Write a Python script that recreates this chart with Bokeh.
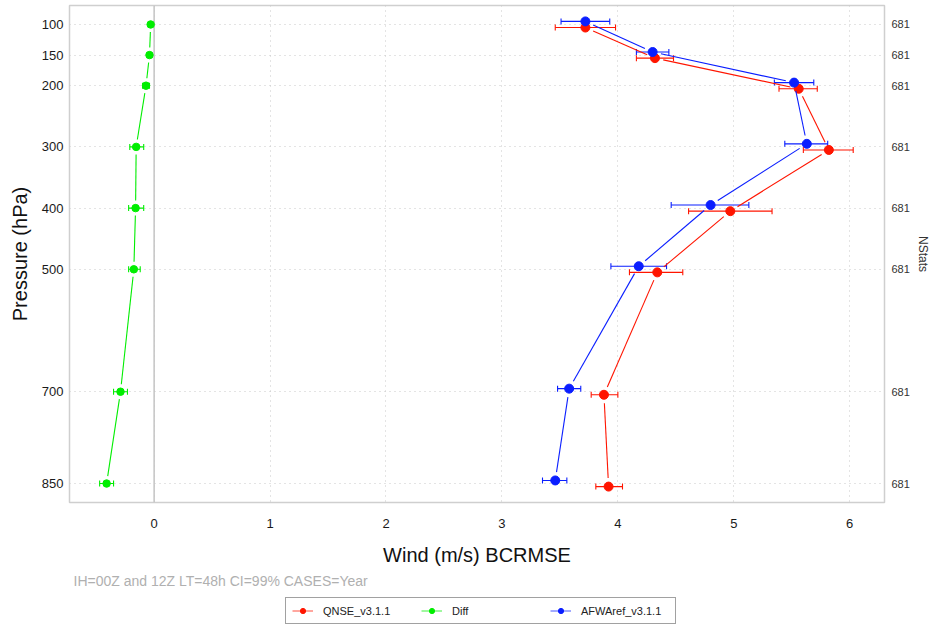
import math
from bokeh.plotting import figure
from bokeh.layouts import column
from bokeh.models import (Range1d, LinearAxis, FixedTicker, Whisker, TeeHead,
                          ColumnDataSource, Span, Legend, LegendItem, Label)
from bokeh.embed import file_html
from bokeh.resources import INLINE

# ---------------- data ----------------
levels = [100, 150, 200, 300, 400, 500, 700, 850]
nstats = [681, 681, 681, 681, 681, 681, 681, 681]

qnse = [3.72, 4.32, 5.56, 5.82, 4.97, 4.34, 3.88, 3.92]
qnse_lo = [3.46, 4.16, 5.39, 5.60, 4.61, 4.10, 3.77, 3.81]
qnse_hi = [3.98, 4.48, 5.72, 6.03, 5.33, 4.56, 4.00, 4.04]

afwa = [3.72, 4.30, 5.52, 5.63, 4.80, 4.18, 3.58, 3.46]
afwa_lo = [3.51, 4.16, 5.35, 5.44, 4.46, 3.94, 3.48, 3.35]
afwa_hi = [3.93, 4.44, 5.69, 5.81, 5.13, 4.42, 3.68, 3.56]

diff = [-0.03, -0.04, -0.07, -0.155, -0.16, -0.175, -0.29, -0.41]
diff_lo = [-0.04, -0.06, -0.10, -0.21, -0.22, -0.22, -0.35, -0.47]
diff_hi = [-0.02, -0.02, -0.04, -0.09, -0.09, -0.12, -0.23, -0.35]

x_ticks = [0, 1, 2, 3, 4, 5, 6]
series_names = ["QNSE_v3.1.1", "Diff", "AFWAref_v3.1.1"]
caption_text = "IH=00Z and 12Z  LT=48h CI=99% CASES=Year"

# ---------------- layout ----------------
W = 932
H1, H2 = 572, 56
ML, MR, MT, MB = 69, 45, 5, 70
X0, X1 = -0.73, 6.30
Y0, Y1 = 881, 69
FW, FH = W - ML - MR, H1 - MT - MB
SX = FW / (X1 - X0)
SY = FH / abs(Y0 - Y1)
OFFSET = 5  # hPa vertical offset to separate series
FONT = "Liberation Sans"

RED, GREEN, BLUE = "#ff1500", "#00ee00", "#0a1eff"

p = figure(width=W, height=H1, output_backend="svg", toolbar_location=None,
           x_range=Range1d(X0, X1), y_range=Range1d(Y0, Y1),
           min_border_left=ML, min_border_right=MR, min_border_top=MT,
           min_border_bottom=MB, x_axis_label="Wind (m/s) BCRMSE",
           y_axis_label="Pressure (hPa)")
p.outline_line_color = "#cfcfcf"
p.outline_line_width = 1.5
p.background_fill_color = "white"
p.border_fill_color = "white"

p.xaxis.ticker = FixedTicker(ticks=x_ticks)
p.yaxis.ticker = FixedTicker(ticks=levels)

for ax in (p.xaxis[0], p.yaxis[0]):
    ax.axis_line_color = None
    ax.major_tick_line_color = None
    ax.minor_tick_line_color = None
    ax.major_tick_out = 0
    ax.major_tick_in = 0
    ax.major_label_text_font = FONT
    ax.major_label_text_font_size = "13px"
    ax.major_label_text_color = "#1a1a1a"
    ax.axis_label_text_font = FONT
    ax.axis_label_text_font_size = "20px"
    ax.axis_label_text_font_style = "normal"
    ax.axis_label_text_color = "#111111"

p.xaxis.major_label_standoff = 16
p.xaxis.axis_label_standoff = 13
p.yaxis.major_label_standoff = 6
p.yaxis.axis_label_standoff = 8

raxis = LinearAxis(ticker=FixedTicker(ticks=levels),
                   major_label_overrides={lv: str(n) for lv, n in zip(levels, nstats)},
                   axis_label="NStats")
raxis.axis_line_color = None
raxis.major_tick_line_color = None
raxis.minor_tick_line_color = None
raxis.major_tick_out = 0
raxis.major_tick_in = 0
raxis.major_label_standoff = 7
raxis.major_label_text_font = FONT
raxis.major_label_text_font_size = "11px"
raxis.major_label_text_color = "#333333"
raxis.axis_label_text_font = FONT
raxis.axis_label_text_font_size = "12px"
raxis.axis_label_text_font_style = "normal"
raxis.axis_label_text_color = "#333333"
raxis.axis_label_standoff = 3
p.add_layout(raxis, "right")

for g in (p.xgrid[0], p.ygrid[0]):
    g.grid_line_color = "#c8c8c8"
    g.grid_line_dash = "1 4"
    g.grid_line_width = 1

p.add_layout(Span(location=0, dimension="height", line_color="#c4c4c4",
                  line_width=1.5, level="underlay"))


def gapped(xs, ys, gap):
    a, b, c, d = [], [], [], []
    for i in range(len(xs) - 1):
        dxd, dyd = xs[i + 1] - xs[i], ys[i + 1] - ys[i]
        L = math.hypot(dxd * SX, dyd * SY)
        if L <= 2 * gap:
            continue
        f = gap / L
        a.append(xs[i] + dxd * f)
        b.append(ys[i] + dyd * f)
        c.append(xs[i + 1] - dxd * f)
        d.append(ys[i + 1] - dyd * f)
    return a, b, c, d


def series(vals, lo, hi, dy, color, size, gap):
    ys = [lv + dy for lv in levels]
    x0, y0, x1, y1 = gapped(vals, ys, gap)
    p.segment(x0=x0, y0=y0, x1=x1, y1=y1, line_color=color, line_width=1.1)
    src = ColumnDataSource(dict(y=ys, lo=lo, hi=hi))
    p.add_layout(Whisker(source=src, base="y", lower="lo", upper="hi",
                         dimension="width", line_color=color, line_width=1.1,
                         lower_head=TeeHead(size=6, line_color=color, line_width=1.1),
                         upper_head=TeeHead(size=6, line_color=color, line_width=1.1)))
    p.scatter(x=vals, y=ys, size=size, fill_color=color, line_color=color)


series(qnse, qnse_lo, qnse_hi, OFFSET, RED, 9, 8.5)
series(diff, diff_lo, diff_hi, 0, GREEN, 7.5, 7.5)
series(afwa, afwa_lo, afwa_hi, -OFFSET, BLUE, 9, 8.5)

# ---------------- caption + legend strip ----------------
q = figure(width=W, height=H2, output_backend="svg", toolbar_location=None,
           x_range=Range1d(0, 1), y_range=Range1d(0, 1),
           x_axis_location=None, y_axis_location=None,
           min_border_left=0, min_border_right=0, min_border_top=0,
           min_border_bottom=0)
q.outline_line_color = None
q.xgrid.visible = False
q.ygrid.visible = False
q.background_fill_color = "white"
q.border_fill_color = "white"

NAN = float("nan")
items = []
for name, color in zip(series_names, [RED, GREEN, BLUE]):
    lr = q.line(x=[NAN], y=[NAN], line_color=color, line_alpha=0.5, line_width=1.5)
    sr = q.scatter(x=[NAN], y=[NAN], size=6, fill_color=color, line_color=color)
    items.append(LegendItem(label=name, renderers=[lr, sr]))

legend = Legend(items=items, location=(216, 4), orientation="horizontal",
                glyph_width=21, glyph_height=13, label_height=13,
                label_width=88, label_standoff=10, spacing=10, padding=6,
                margin=0, border_line_color="#444444", border_line_width=1,
                background_fill_color="white", background_fill_alpha=1,
                label_text_font=FONT, label_text_font_size="11px",
                label_text_color="#222222")
q.add_layout(legend)

q.add_layout(Label(x=4, y=48, x_units="screen", y_units="screen",
                   text=caption_text, text_font=FONT, text_font_size="14px",
                   text_color="#b0b0b0", text_baseline="middle"))

layout = column(p, q, spacing=0)
open("out.html", "w").write(file_html(layout, INLINE))
